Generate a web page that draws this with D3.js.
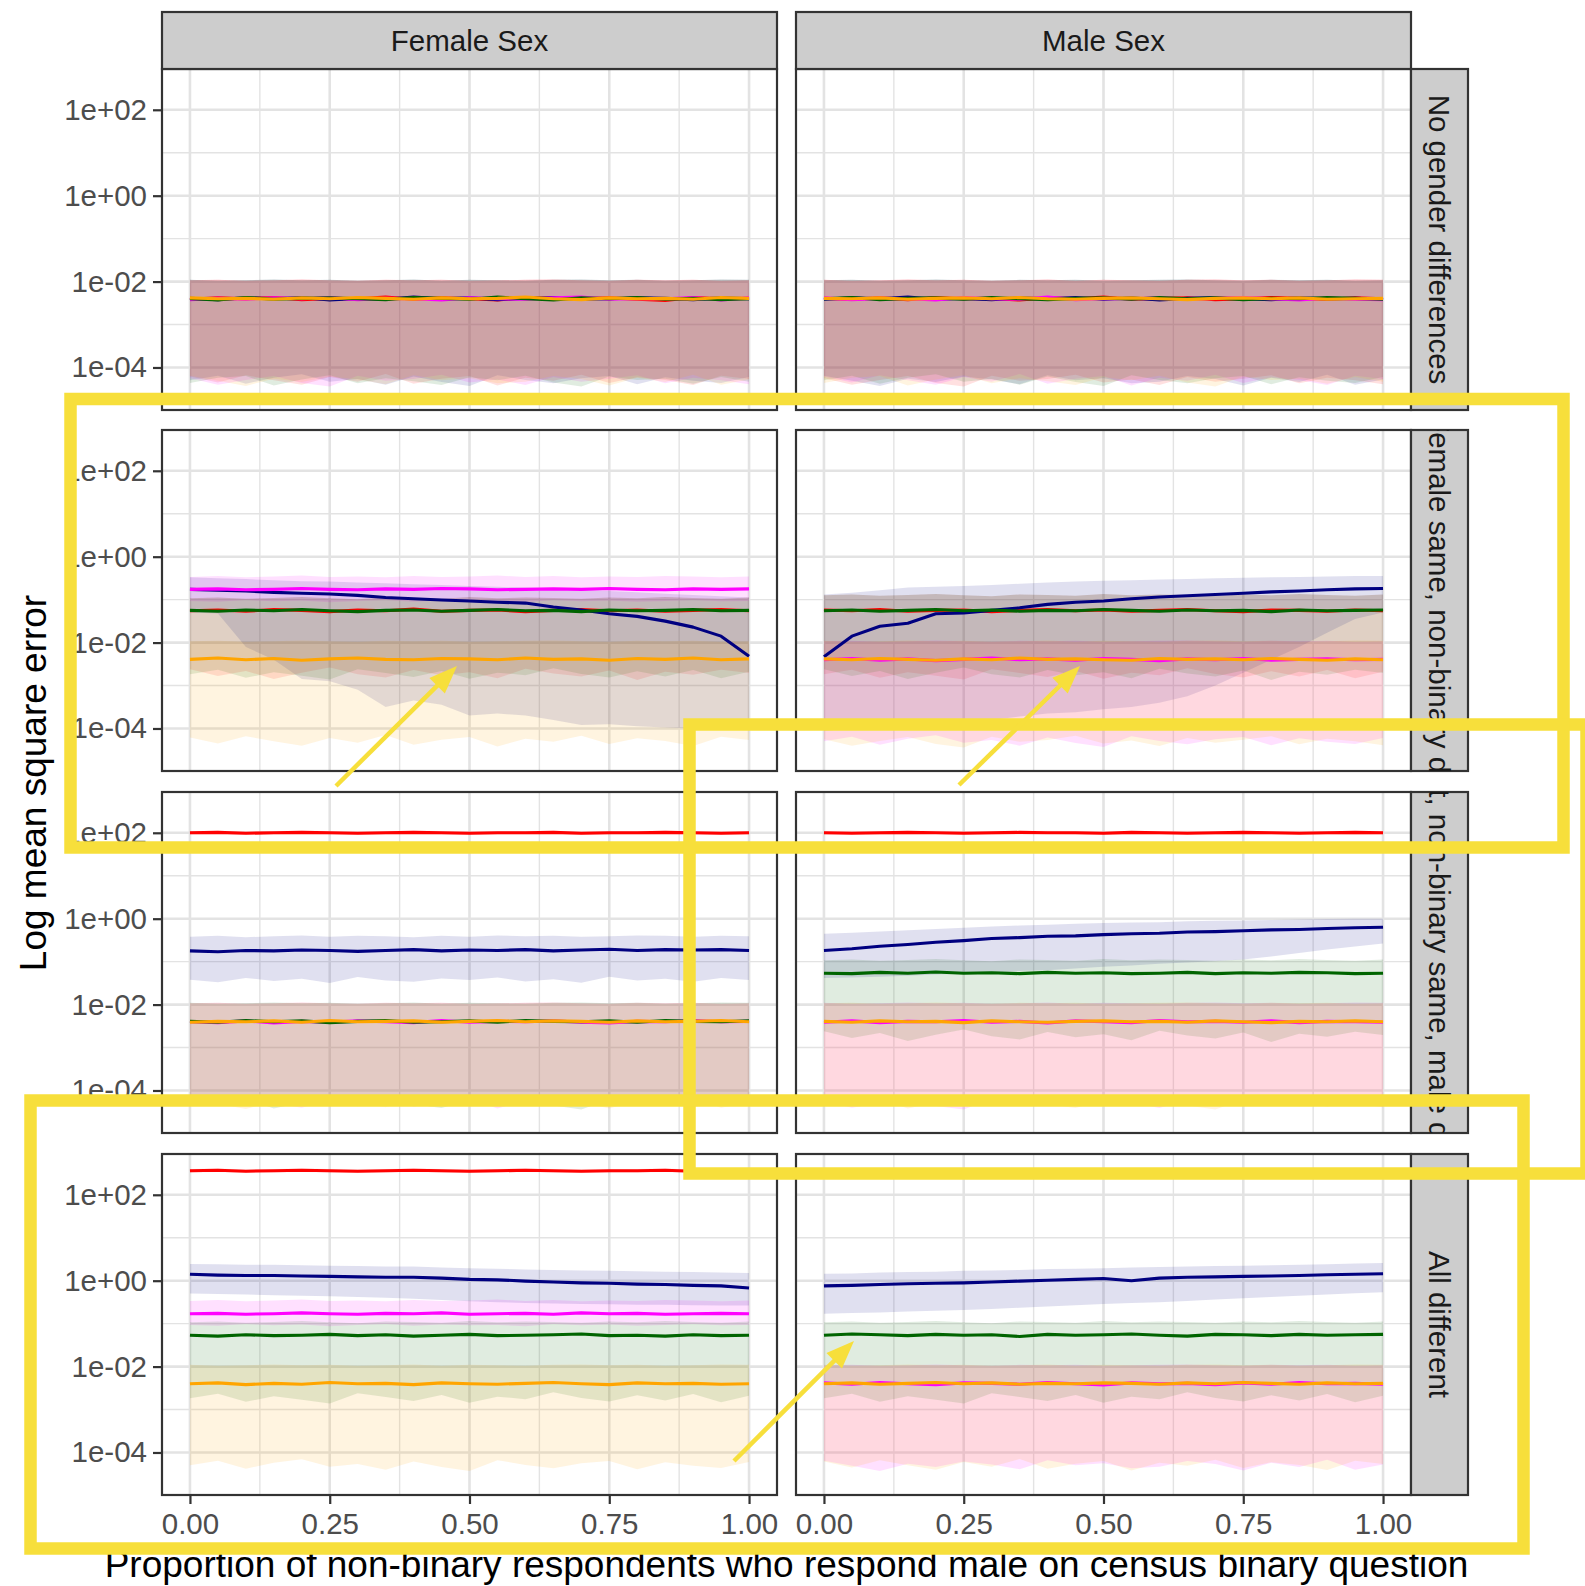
<!DOCTYPE html>
<html>
<head>
<meta charset="utf-8">
<script src="https://d3js.org/d3.v7.min.js"></script>
<style>
  body { margin: 0; background: #fff; }
  svg text { font-family: "Liberation Sans", Arial, Helvetica, sans-serif; }
</style>
</head>
<body>
<script>
// ---- data: log10 of mean square error ----
const propMale = [0.00,0.05,0.10,0.15,0.20,0.25,0.30,0.35,0.40,0.45,0.50,0.55,0.60,0.65,0.70,0.75,0.80,0.85,0.90,0.95,1.00];
const methodColors = ["red", "navy", "magenta", "darkgreen", "orange"];
const sexLabels = ["Female Sex", "Male Sex"];
const scenarioLabels = ["No gender differences", "Female same, non-binary different",
  "Female different, non-binary same, male different", "All different"];
const xTickVals = [0, 0.25, 0.5, 0.75, 1];
const xTickLabels = ["0.00", "0.25", "0.50", "0.75", "1.00"];
const yTickVals = [1e-4, 1e-2, 1, 1e2];
const yTickLabels = ["1e-04", "1e-02", "1e+00", "1e+02"];

// ribbon bounds (log10)
const capHiA = [-1.97,-1.96,-1.98,-1.97,-1.95,-1.97,-1.98,-1.96,-1.97,-1.96,-1.98,-1.97,-1.96,-1.95,-1.97,-1.98,-1.96,-1.97,-1.96,-1.98,-1.97];
const capHiB = [-1.96,-1.98,-1.97,-1.95,-1.97,-1.96,-1.98,-1.97,-1.95,-1.98,-1.96,-1.97,-1.98,-1.96,-1.95,-1.97,-1.96,-1.98,-1.97,-1.95,-1.96];
const floorA = [-4.21,-4.35,-4.18,-4.30,-4.40,-4.22,-4.33,-4.15,-4.38,-4.26,-4.20,-4.42,-4.24,-4.31,-4.17,-4.36,-4.23,-4.29,-4.41,-4.19,-4.27];
const floorB = [-4.30,-4.19,-4.38,-4.24,-4.16,-4.33,-4.27,-4.40,-4.21,-4.34,-4.43,-4.18,-4.29,-4.37,-4.25,-4.20,-4.39,-4.23,-4.31,-4.36,-4.22];
const floorC = [-4.25,-4.40,-4.29,-4.20,-4.36,-4.44,-4.19,-4.31,-4.27,-4.17,-4.35,-4.28,-4.41,-4.22,-4.33,-4.26,-4.18,-4.37,-4.24,-4.30,-4.39];
const floorD = [-4.36,-4.24,-4.20,-4.42,-4.28,-4.18,-4.37,-4.25,-4.32,-4.41,-4.23,-4.30,-4.19,-4.35,-4.44,-4.21,-4.29,-4.26,-4.38,-4.22,-4.33];
const floorE = [-4.19,-4.31,-4.43,-4.26,-4.34,-4.21,-4.28,-4.39,-4.18,-4.30,-4.25,-4.37,-4.33,-4.20,-4.27,-4.42,-4.24,-4.34,-4.17,-4.40,-4.28];
const shelfA = [-2.62,-2.78,-2.66,-2.85,-2.70,-2.58,-2.74,-2.81,-2.64,-2.76,-2.69,-2.83,-2.61,-2.72,-2.79,-2.65,-2.87,-2.68,-2.75,-2.63,-2.71];
const shelfB = [-2.74,-2.63,-2.82,-2.69,-2.77,-2.86,-2.62,-2.71,-2.80,-2.66,-2.84,-2.70,-2.76,-2.60,-2.73,-2.81,-2.67,-2.79,-2.64,-2.83,-2.68];
const ridgeA = [-0.97,-0.95,-0.98,-0.96,-0.94,-0.97,-0.99,-0.95,-0.96,-0.98,-0.94,-0.97,-0.95,-0.96,-0.98,-0.95,-0.97,-0.94,-0.96,-0.98,-0.95];
const ridgeB = [-0.90,-0.88,-0.91,-0.89,-0.87,-0.90,-0.92,-0.88,-0.89,-0.91,-0.87,-0.90,-0.88,-0.89,-0.91,-0.88,-0.90,-0.87,-0.89,-0.91,-0.88];
const magHi = [-0.47,-0.45,-0.48,-0.46,-0.44,-0.47,-0.46,-0.48,-0.45,-0.47,-0.46,-0.44,-0.47,-0.45,-0.48,-0.46,-0.47,-0.45,-0.46,-0.48,-0.46];
const magLo = [-1.03,-1.05,-1.01,-1.04,-1.02,-1.06,-1.03,-1.01,-1.05,-1.02,-1.04,-1.03,-1.06,-1.01,-1.04,-1.02,-1.05,-1.03,-1.01,-1.04,-1.03];
const redHi3 = [2.04,2.05,2.03,2.04,2.05,2.04,2.03,2.04,2.05,2.04,2.03,2.04,2.04,2.05,2.03,2.04,2.04,2.05,2.04,2.03,2.04];
const redLo3 = [1.96,1.97,1.95,1.96,1.97,1.96,1.95,1.96,1.97,1.96,1.95,1.96,1.96,1.97,1.95,1.96,1.96,1.97,1.96,1.95,1.96];
const redHi4 = [2.60,2.61,2.59,2.60,2.61,2.60,2.59,2.60,2.61,2.60,2.59,2.60,2.61,2.60,2.59,2.60,2.60,2.61,2.59,2.60,2.60];
const redLo4 = [2.52,2.53,2.51,2.52,2.53,2.52,2.51,2.52,2.53,2.52,2.51,2.52,2.53,2.52,2.51,2.52,2.52,2.53,2.51,2.52,2.52];
const f2NavyHi = [-0.48,-0.50,-0.52,-0.55,-0.57,-0.58,-0.60,-0.62,-0.64,-0.66,-0.68,-0.70,-0.72,-0.74,-0.77,-0.80,-0.83,-0.86,-0.89,-0.92,-0.95];
const f2NavyLo = [-1.30,-1.32,-2.10,-2.40,-2.85,-2.90,-3.10,-3.50,-3.35,-3.45,-3.70,-3.65,-3.70,-3.80,-3.92,-3.90,-3.95,-3.98,-4.00,-3.98,-4.02];
const m2NavyHi = [-0.88,-0.84,-0.78,-0.72,-0.70,-0.68,-0.66,-0.63,-0.60,-0.58,-0.56,-0.55,-0.53,-0.52,-0.50,-0.49,-0.48,-0.47,-0.46,-0.45,-0.45];
const m2NavyLo = [-4.05,-4.00,-3.98,-3.95,-3.92,-3.90,-3.80,-3.72,-3.65,-3.62,-3.55,-3.50,-3.40,-3.25,-3.00,-2.70,-2.40,-2.10,-1.77,-1.45,-1.30];
const f3NavyHi = [-0.42,-0.40,-0.43,-0.41,-0.39,-0.42,-0.40,-0.41,-0.43,-0.40,-0.42,-0.39,-0.41,-0.40,-0.42,-0.41,-0.39,-0.40,-0.42,-0.40,-0.41];
const f3NavyLo = [-1.42,-1.48,-1.38,-1.45,-1.40,-1.50,-1.36,-1.44,-1.47,-1.39,-1.43,-1.37,-1.46,-1.41,-1.49,-1.35,-1.44,-1.40,-1.47,-1.38,-1.43];
const m3NavyHi = [-0.35,-0.33,-0.30,-0.27,-0.24,-0.21,-0.18,-0.16,-0.14,-0.12,-0.10,-0.09,-0.08,-0.06,-0.05,-0.04,-0.03,-0.02,-0.01,0.00,0.00];
const m3NavyLo = [-1.38,-1.37,-1.35,-1.33,-1.30,-1.28,-1.25,-1.22,-1.20,-1.16,-1.12,-1.09,-1.05,-1.02,-0.99,-0.95,-0.88,-0.80,-0.72,-0.65,-0.58];
const f4NavyHi = [0.39,0.38,0.37,0.37,0.36,0.35,0.34,0.33,0.33,0.31,0.29,0.28,0.26,0.25,0.24,0.23,0.22,0.21,0.20,0.19,0.18];
const f4NavyLo = [-0.30,-0.31,-0.32,-0.34,-0.35,-0.36,-0.38,-0.40,-0.42,-0.45,-0.48,-0.50,-0.52,-0.53,-0.54,-0.55,-0.56,-0.56,-0.57,-0.58,-0.58];
const m4NavyHi = [0.16,0.17,0.19,0.20,0.21,0.23,0.24,0.25,0.27,0.28,0.29,0.31,0.32,0.33,0.34,0.35,0.36,0.37,0.38,0.40,0.41];
const m4NavyLo = [-0.77,-0.75,-0.74,-0.72,-0.70,-0.68,-0.66,-0.63,-0.60,-0.57,-0.54,-0.52,-0.50,-0.47,-0.44,-0.41,-0.38,-0.35,-0.32,-0.29,-0.27];

// mean lines per panel, in method order red, navy, magenta, green, orange
const meanF1 = [
  [-2.41,-2.38,-2.40,-2.37,-2.42,-2.39,-2.40,-2.36,-2.41,-2.38,-2.40,-2.43,-2.37,-2.39,-2.40,-2.38,-2.41,-2.44,-2.37,-2.40,-2.39],
  [-2.39,-2.42,-2.38,-2.40,-2.37,-2.43,-2.39,-2.41,-2.36,-2.40,-2.38,-2.42,-2.39,-2.37,-2.41,-2.40,-2.38,-2.39,-2.42,-2.38,-2.40],
  [-2.42,-2.39,-2.41,-2.38,-2.40,-2.37,-2.42,-2.39,-2.40,-2.43,-2.38,-2.40,-2.41,-2.38,-2.36,-2.41,-2.39,-2.40,-2.37,-2.43,-2.38],
  [-2.40,-2.43,-2.37,-2.41,-2.39,-2.38,-2.40,-2.42,-2.37,-2.39,-2.41,-2.36,-2.40,-2.43,-2.38,-2.40,-2.37,-2.41,-2.39,-2.42,-2.40],
  [-2.38,-2.40,-2.39,-2.41,-2.38,-2.40,-2.37,-2.39,-2.41,-2.38,-2.40,-2.39,-2.36,-2.40,-2.42,-2.38,-2.40,-2.39,-2.41,-2.37,-2.39]
];
const meanM1 = [
  [-2.39,-2.41,-2.38,-2.42,-2.37,-2.40,-2.39,-2.43,-2.38,-2.40,-2.36,-2.41,-2.39,-2.38,-2.42,-2.40,-2.37,-2.39,-2.41,-2.38,-2.40],
  [-2.41,-2.38,-2.40,-2.36,-2.41,-2.39,-2.42,-2.38,-2.40,-2.37,-2.41,-2.38,-2.43,-2.39,-2.37,-2.40,-2.42,-2.38,-2.40,-2.39,-2.41],
  [-2.38,-2.42,-2.39,-2.40,-2.43,-2.37,-2.40,-2.41,-2.36,-2.42,-2.39,-2.40,-2.38,-2.41,-2.39,-2.37,-2.40,-2.43,-2.38,-2.41,-2.42],
  [-2.40,-2.37,-2.42,-2.39,-2.38,-2.41,-2.37,-2.40,-2.42,-2.39,-2.38,-2.41,-2.37,-2.40,-2.38,-2.42,-2.39,-2.40,-2.37,-2.39,-2.41],
  [-2.39,-2.40,-2.38,-2.41,-2.39,-2.38,-2.40,-2.37,-2.40,-2.41,-2.39,-2.38,-2.40,-2.42,-2.39,-2.38,-2.40,-2.38,-2.41,-2.40,-2.39]
];
const meanF2 = [
  [-1.26,-1.24,-1.27,-1.23,-1.25,-1.28,-1.24,-1.26,-1.22,-1.27,-1.25,-1.24,-1.28,-1.25,-1.23,-1.26,-1.24,-1.27,-1.25,-1.23,-1.26],
  [-0.76,-0.78,-0.80,-0.83,-0.85,-0.87,-0.90,-0.95,-0.98,-1.01,-1.03,-1.06,-1.08,-1.17,-1.24,-1.33,-1.39,-1.50,-1.64,-1.85,-2.32],
  [-0.76,-0.75,-0.77,-0.76,-0.74,-0.76,-0.77,-0.75,-0.76,-0.74,-0.75,-0.77,-0.76,-0.75,-0.76,-0.74,-0.76,-0.77,-0.75,-0.76,-0.75],
  [-1.25,-1.27,-1.24,-1.26,-1.23,-1.26,-1.28,-1.25,-1.24,-1.27,-1.25,-1.23,-1.26,-1.25,-1.28,-1.24,-1.26,-1.25,-1.23,-1.26,-1.25],
  [-2.39,-2.36,-2.40,-2.37,-2.41,-2.38,-2.36,-2.39,-2.40,-2.37,-2.38,-2.40,-2.36,-2.39,-2.38,-2.41,-2.37,-2.39,-2.36,-2.40,-2.38]
];
const meanM2 = [
  [-1.24,-1.26,-1.23,-1.27,-1.25,-1.24,-1.28,-1.25,-1.23,-1.26,-1.24,-1.27,-1.25,-1.23,-1.26,-1.28,-1.24,-1.25,-1.27,-1.24,-1.26],
  [-2.33,-1.85,-1.62,-1.55,-1.33,-1.31,-1.25,-1.19,-1.11,-1.06,-1.03,-0.98,-0.94,-0.91,-0.88,-0.85,-0.82,-0.80,-0.77,-0.75,-0.74],
  [-2.40,-2.37,-2.41,-2.38,-2.42,-2.39,-2.36,-2.40,-2.38,-2.41,-2.37,-2.39,-2.42,-2.38,-2.40,-2.37,-2.41,-2.39,-2.38,-2.40,-2.39],
  [-1.26,-1.24,-1.27,-1.25,-1.23,-1.26,-1.24,-1.27,-1.25,-1.26,-1.23,-1.25,-1.27,-1.24,-1.26,-1.25,-1.28,-1.24,-1.26,-1.25,-1.24],
  [-2.38,-2.40,-2.37,-2.39,-2.41,-2.38,-2.40,-2.36,-2.39,-2.38,-2.40,-2.41,-2.37,-2.39,-2.38,-2.40,-2.37,-2.39,-2.41,-2.38,-2.40]
];
const meanF3 = [
  [2.00,2.01,1.99,2.00,2.01,2.00,1.99,2.00,2.01,2.00,1.99,2.00,2.00,2.01,1.99,2.00,2.00,2.01,2.00,1.99,2.00],
  [-0.75,-0.77,-0.74,-0.75,-0.73,-0.74,-0.76,-0.74,-0.72,-0.75,-0.73,-0.74,-0.72,-0.75,-0.73,-0.71,-0.74,-0.72,-0.73,-0.72,-0.74],
  [-2.40,-2.42,-2.38,-2.43,-2.39,-2.41,-2.38,-2.40,-2.42,-2.37,-2.41,-2.39,-2.40,-2.38,-2.41,-2.43,-2.39,-2.40,-2.37,-2.40,-2.39],
  [-2.39,-2.41,-2.37,-2.40,-2.38,-2.42,-2.39,-2.37,-2.41,-2.40,-2.38,-2.41,-2.37,-2.39,-2.40,-2.38,-2.41,-2.37,-2.39,-2.40,-2.38],
  [-2.41,-2.39,-2.40,-2.38,-2.41,-2.37,-2.40,-2.39,-2.38,-2.41,-2.39,-2.37,-2.40,-2.38,-2.39,-2.41,-2.38,-2.40,-2.39,-2.37,-2.40]
];
const meanM3 = [
  [2.00,1.99,2.00,2.01,2.00,1.99,2.00,2.01,2.00,2.00,1.99,2.01,2.00,1.99,2.00,2.01,2.00,1.99,2.00,2.01,2.00],
  [-0.74,-0.70,-0.64,-0.60,-0.55,-0.51,-0.46,-0.44,-0.41,-0.40,-0.37,-0.35,-0.34,-0.31,-0.30,-0.28,-0.26,-0.25,-0.23,-0.21,-0.20],
  [-2.41,-2.38,-2.42,-2.39,-2.40,-2.37,-2.41,-2.39,-2.43,-2.38,-2.40,-2.42,-2.37,-2.40,-2.39,-2.41,-2.38,-2.42,-2.39,-2.40,-2.41],
  [-1.27,-1.28,-1.25,-1.27,-1.24,-1.27,-1.26,-1.28,-1.25,-1.27,-1.26,-1.28,-1.27,-1.25,-1.28,-1.26,-1.27,-1.25,-1.26,-1.28,-1.27],
  [-2.39,-2.41,-2.38,-2.40,-2.39,-2.42,-2.38,-2.40,-2.41,-2.39,-2.38,-2.40,-2.39,-2.41,-2.38,-2.40,-2.42,-2.39,-2.40,-2.38,-2.40]
];
const meanF4 = [
  [2.56,2.57,2.55,2.56,2.57,2.56,2.55,2.56,2.57,2.56,2.55,2.56,2.57,2.56,2.55,2.56,2.56,2.57,2.55,2.56,2.56],
  [0.15,0.13,0.12,0.12,0.11,0.10,0.09,0.08,0.08,0.06,0.03,0.02,-0.01,-0.03,-0.05,-0.06,-0.08,-0.09,-0.11,-0.12,-0.17],
  [-0.77,-0.76,-0.78,-0.77,-0.75,-0.77,-0.78,-0.76,-0.77,-0.75,-0.78,-0.77,-0.76,-0.78,-0.75,-0.77,-0.76,-0.78,-0.77,-0.76,-0.77],
  [-1.27,-1.29,-1.26,-1.28,-1.27,-1.25,-1.28,-1.26,-1.29,-1.27,-1.25,-1.28,-1.27,-1.26,-1.24,-1.28,-1.27,-1.29,-1.26,-1.28,-1.27],
  [-2.40,-2.38,-2.42,-2.39,-2.41,-2.37,-2.40,-2.39,-2.42,-2.38,-2.40,-2.41,-2.39,-2.37,-2.40,-2.42,-2.38,-2.40,-2.39,-2.41,-2.40]
];
const meanM4 = [
  [2.56,2.55,2.56,2.57,2.56,2.55,2.56,2.57,2.56,2.56,2.55,2.57,2.56,2.55,2.56,2.57,2.56,2.55,2.56,2.57,2.56],
  [-0.12,-0.11,-0.09,-0.07,-0.06,-0.05,-0.03,-0.01,0.01,0.03,0.05,0.00,0.06,0.08,0.09,0.10,0.11,0.12,0.14,0.15,0.16],
  [-2.38,-2.41,-2.37,-2.40,-2.42,-2.38,-2.39,-2.41,-2.37,-2.40,-2.43,-2.38,-2.40,-2.39,-2.42,-2.38,-2.41,-2.37,-2.40,-2.39,-2.41],
  [-1.27,-1.24,-1.26,-1.28,-1.25,-1.27,-1.26,-1.30,-1.25,-1.27,-1.26,-1.24,-1.27,-1.29,-1.25,-1.26,-1.28,-1.25,-1.27,-1.26,-1.25],
  [-2.40,-2.38,-2.41,-2.39,-2.37,-2.40,-2.38,-2.41,-2.39,-2.40,-2.38,-2.39,-2.41,-2.38,-2.40,-2.37,-2.39,-2.41,-2.38,-2.40,-2.39]
];

const lowF1 = [floorA, floorB, floorC, floorD, floorE];
const highF1 = [capHiA, capHiB, capHiA, capHiB, capHiA];
const lowM1 = [floorC, floorE, floorA, floorB, floorD];
const highM1 = [capHiB, capHiA, capHiB, capHiA, capHiB];
const lowF2 = [shelfA, f2NavyLo, magLo, shelfB, floorA];
const highF2 = [ridgeA, f2NavyHi, magHi, ridgeA, capHiA];
const lowM2 = [shelfB, m2NavyLo, floorB, shelfA, floorC];
const highM2 = [ridgeB, m2NavyHi, capHiA, ridgeB, capHiB];
const lowF3 = [redLo3, f3NavyLo, floorA, floorD, floorE];
const highF3 = [redHi3, f3NavyHi, capHiA, capHiB, capHiA];
const lowM3 = [redLo3, m3NavyLo, floorC, shelfA, floorD];
const highM3 = [redHi3, m3NavyHi, capHiB, ridgeA, capHiA];
const lowF4 = [redLo4, f4NavyLo, magLo, shelfB, floorB];
const highF4 = [redHi4, f4NavyHi, magHi, ridgeA, capHiB];
const lowM4 = [redLo4, m4NavyLo, floorE, shelfB, floorA];
const highM4 = [redHi4, m4NavyHi, capHiA, ridgeA, capHiB];

const panels = [
  {row: 0, col: 0, mean: meanF1, low: lowF1, high: highF1},
  {row: 0, col: 1, mean: meanM1, low: lowM1, high: highM1},
  {row: 1, col: 0, mean: meanF2, low: lowF2, high: highF2},
  {row: 1, col: 1, mean: meanM2, low: lowM2, high: highM2},
  {row: 2, col: 0, mean: meanF3, low: lowF3, high: highF3},
  {row: 2, col: 1, mean: meanM3, low: lowM3, high: highM3},
  {row: 3, col: 0, mean: meanF4, low: lowF4, high: highF4},
  {row: 3, col: 1, mean: meanM4, low: lowM4, high: highM4}
];

// ---- layout ----
const W = 1585, H = 1586;
const colLeft = [162, 796], panelW = 615;
const rowTop = [69, 430, 792, 1154], panelH = 341;
const stripTop = 12, stripH = 57, stripRight = 1411;
const gridColor = "#E3E3E3", frameColor = "#333333";
const tickFont = 29.5, titleFont = 37;
// offsets of the clipped row labels, so the visible part sits as in the figure
const labelShift = [0, 38, -56, 0];

const svg = d3.select("body").append("svg")
  .attr("width", W).attr("height", H).style("display", "block");
svg.append("rect").attr("width", W).attr("height", H).attr("fill", "#fff");

const x = d3.scaleLinear().domain([-0.05, 1.05]).range([0, panelW]);
const y = d3.scaleLog().domain([Math.pow(10, -4.99), Math.pow(10, 2.95)]).range([panelH, 0]);
const xMinor = [0.125, 0.375, 0.625, 0.875];
const yMinor = [1e-3, 1e-1, 1e1];

panels.forEach(function(p) {
  const g = svg.append("g").attr("transform", "translate(" + colLeft[p.col] + "," + rowTop[p.row] + ")");
  g.append("rect").attr("width", panelW).attr("height", panelH).attr("fill", "#fff");

  // grid
  g.selectAll("line.vmin").data(xMinor).enter().append("line")
    .attr("x1", d => x(d)).attr("x2", d => x(d)).attr("y1", 0).attr("y2", panelH)
    .attr("stroke", gridColor).attr("stroke-width", 1.4);
  g.selectAll("line.hmin").data(yMinor).enter().append("line")
    .attr("x1", 0).attr("x2", panelW).attr("y1", d => y(d)).attr("y2", d => y(d))
    .attr("stroke", gridColor).attr("stroke-width", 1.4);
  g.selectAll("line.vmaj").data(xTickVals).enter().append("line")
    .attr("x1", d => x(d)).attr("x2", d => x(d)).attr("y1", 0).attr("y2", panelH)
    .attr("stroke", gridColor).attr("stroke-width", 2.6);
  g.selectAll("line.hmaj").data(yTickVals).enter().append("line")
    .attr("x1", 0).attr("x2", panelW).attr("y1", d => y(d)).attr("y2", d => y(d))
    .attr("stroke", gridColor).attr("stroke-width", 2.6);

  const clipId = "clip-" + p.row + "-" + p.col;
  g.append("clipPath").attr("id", clipId).append("rect").attr("width", panelW).attr("height", panelH);
  const plot = g.append("g").attr("clip-path", "url(#" + clipId + ")");

  const series = methodColors.map(function(c, k) {
    return propMale.map(function(pm, i) {
      return {p: pm, m: Math.pow(10, p.mean[k][i]), lo: Math.pow(10, p.low[k][i]), hi: Math.pow(10, p.high[k][i])};
    });
  });

  const area = d3.area().x(d => x(d.p)).y0(d => y(d.lo)).y1(d => y(d.hi));
  const line = d3.line().x(d => x(d.p)).y(d => y(d.m));

  plot.selectAll("path.ribbon").data(series).enter().append("path")
    .attr("class", "ribbon")
    .attr("d", area)
    .attr("fill", (d, k) => methodColors[k])
    .attr("fill-opacity", 0.12);
  plot.selectAll("path.mean").data(series).enter().append("path")
    .attr("class", "mean")
    .attr("d", line)
    .attr("fill", "none")
    .attr("stroke", (d, k) => methodColors[k])
    .attr("stroke-width", 3.1)
    .attr("stroke-linejoin", "round");

  g.append("rect").attr("width", panelW).attr("height", panelH)
    .attr("fill", "none").attr("stroke", frameColor).attr("stroke-width", 2.2);

  if (p.col === 0) {
    const ax = g.append("g").call(d3.axisLeft(y).tickValues(yTickVals)
      .tickFormat((d, i) => yTickLabels[i]).tickSize(9).tickPadding(6));
    ax.select(".domain").remove();
    ax.selectAll("line").attr("stroke", frameColor).attr("stroke-width", 2.2);
    ax.selectAll("text").attr("fill", "#4D4D4D").style("font-size", tickFont + "px")
      .style("font-family", "'Liberation Sans', Arial, sans-serif");
  }
  if (p.row === 3) {
    const ax = g.append("g").attr("transform", "translate(0," + panelH + ")")
      .call(d3.axisBottom(x).tickValues(xTickVals)
      .tickFormat((d, i) => xTickLabels[i]).tickSize(9).tickPadding(9));
    ax.select(".domain").remove();
    ax.selectAll("line").attr("stroke", frameColor).attr("stroke-width", 2.2);
    ax.selectAll("text").attr("fill", "#4D4D4D").style("font-size", tickFont + "px")
      .style("font-family", "'Liberation Sans', Arial, sans-serif");
  }
});

// top strips
sexLabels.forEach(function(lab, c) {
  svg.append("rect").attr("x", colLeft[c]).attr("y", stripTop).attr("width", panelW).attr("height", stripH)
    .attr("fill", "#CDCDCD").attr("stroke", frameColor).attr("stroke-width", 2.2);
  svg.append("text").attr("x", colLeft[c] + panelW / 2).attr("y", stripTop + stripH / 2)
    .attr("dy", "0.35em").attr("text-anchor", "middle")
    .attr("fill", "#1A1A1A").style("font-size", tickFont + "px").text(lab);
});

// right strips
scenarioLabels.forEach(function(lab, r) {
  const id = "strip-clip-" + r;
  svg.append("clipPath").attr("id", id).append("rect")
    .attr("x", stripRight).attr("y", rowTop[r]).attr("width", stripH).attr("height", panelH);
  svg.append("rect").attr("x", stripRight).attr("y", rowTop[r]).attr("width", stripH).attr("height", panelH)
    .attr("fill", "#CDCDCD").attr("stroke", frameColor).attr("stroke-width", 2.2);
  svg.append("g").attr("clip-path", "url(#" + id + ")")
    .append("text")
    .attr("transform", "translate(" + (stripRight + stripH / 2) + "," + (rowTop[r] + panelH / 2 + labelShift[r]) + ") rotate(90)")
    .attr("dy", "0.35em").attr("text-anchor", "middle")
    .attr("fill", "#1A1A1A").style("font-size", tickFont + "px").text(lab);
});

// axis titles
svg.append("text").attr("x", (colLeft[0] + stripRight) / 2).attr("y", 1577)
  .attr("text-anchor", "middle").attr("fill", "#000").style("font-size", titleFont + "px")
  .text("Proportion of non-binary respondents who respond male on census binary question");
svg.append("text").attr("transform", "translate(46,783) rotate(-90)")
  .attr("text-anchor", "middle").attr("fill", "#000").style("font-size", titleFont + "px")
  .text("Log mean square error");

// yellow call-out boxes and arrows laid over the figure
const yellow = "#F7DF3B";
const boxes = [
  {x: 70.5, y: 399, w: 1493, h: 448.5},
  {x: 689.5, y: 724.5, w: 897, h: 449},
  {x: 30.5, y: 1100.5, w: 1493, h: 448}
];
svg.selectAll("rect.callout").data(boxes).enter().append("rect")
  .attr("class", "callout")
  .attr("x", d => d.x).attr("y", d => d.y).attr("width", d => d.w).attr("height", d => d.h)
  .attr("fill", "none").attr("stroke", yellow).attr("stroke-width", 12.5);

const arrows = [
  {x1: 336, y1: 786, x2: 457, y2: 666},
  {x1: 959, y1: 785, x2: 1080, y2: 666},
  {x1: 734, y1: 1461, x2: 854, y2: 1341}
];
arrows.forEach(function(a) {
  const dx = a.x2 - a.x1, dy = a.y2 - a.y1, len = Math.sqrt(dx * dx + dy * dy);
  const ux = dx / len, uy = dy / len, headL = 28, headW = 11;
  svg.append("line").attr("x1", a.x1).attr("y1", a.y1)
    .attr("x2", a.x2 - ux * headL * 0.7).attr("y2", a.y2 - uy * headL * 0.7)
    .attr("stroke", yellow).attr("stroke-width", 4.5);
  const bx = a.x2 - ux * headL, by = a.y2 - uy * headL;
  svg.append("path")
    .attr("d", "M" + a.x2 + "," + a.y2 + "L" + (bx - uy * headW) + "," + (by + ux * headW) +
      "L" + (bx + uy * headW) + "," + (by - ux * headW) + "Z")
    .attr("fill", yellow);
});
</script>
</body>
</html>
